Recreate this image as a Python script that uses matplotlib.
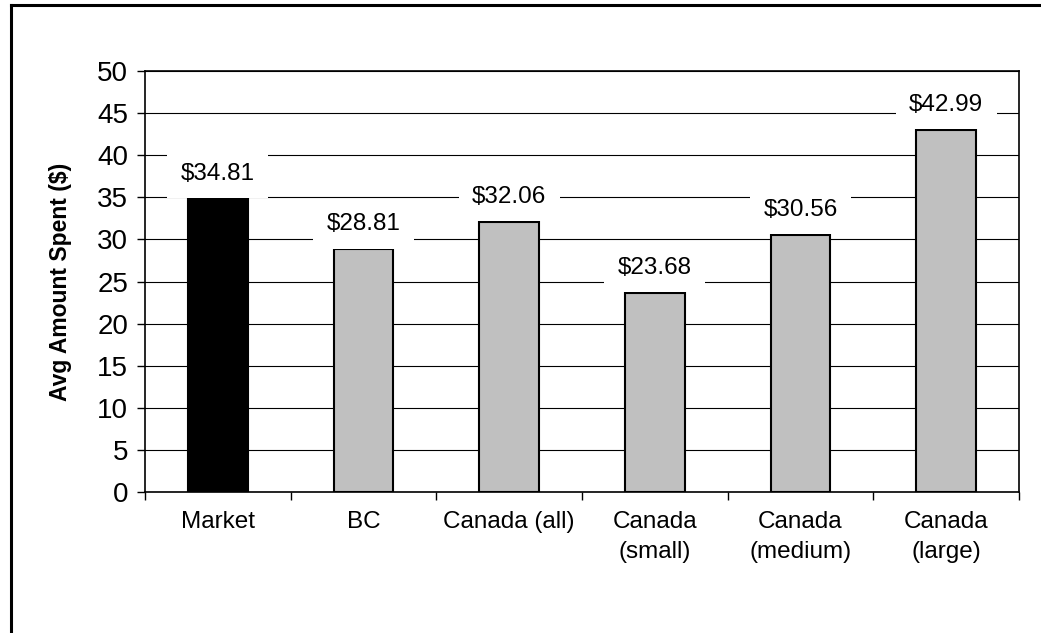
import matplotlib.pyplot as plt
from matplotlib.lines import Line2D
import numpy as np

plt.rcParams['font.family'] = ['Liberation Sans', 'DejaVu Sans']

# Datos
categorias = ['Market', 'BC', 'Canada (all)', 'Canada\n(small)', 'Canada\n(medium)', 'Canada\n(large)']
valores = [34.81, 28.81, 32.06, 23.68, 30.56, 42.99]
colores = ['black', '#c0c0c0', '#c0c0c0', '#c0c0c0', '#c0c0c0', '#c0c0c0']
yticks = list(range(0, 51, 5))

fig = plt.figure(figsize=(10.41, 6.33), dpi=100)
ax = fig.add_axes([0.1393, 0.2227, 0.8396, 0.6651])

x = np.arange(len(categorias))
ax.bar(x, valores, width=0.41, color=colores, edgecolor='black', linewidth=1.5, zorder=3)

ax.set_xlim(-0.5, len(categorias) - 0.5)
ax.set_ylim(0, 50)
ax.set_yticks(yticks)
ax.tick_params(axis='y', labelsize=20, length=6, width=1, direction='out', pad=6)
ax.yaxis.grid(True, color='black', linewidth=0.8, zorder=0)
ax.set_axisbelow(True)

# Etiquetas de categorias con marcas en los limites
ax.set_xticks(x)
ax.set_xticklabels(categorias, fontsize=17.5, linespacing=1.45)
ax.tick_params(axis='x', which='major', length=0, pad=14)
ax.set_xticks(np.arange(-0.5, len(categorias)), minor=True)
ax.tick_params(axis='x', which='minor', length=6, width=1, direction='out')

for s in ax.spines.values():
    s.set_color('black')
    s.set_linewidth(1.2)

ax.set_ylabel('Avg Amount Spent ($)', fontsize=16.5, fontweight='bold', labelpad=18)

# Valores sobre las barras
for xi, v in zip(x, valores):
    ax.annotate(f"${v:.2f}", (xi, v), xytext=(0, 18), textcoords='offset points',
                ha='center', va='center', fontsize=17.5, zorder=4,
                bbox=dict(boxstyle='square,pad=0.55', facecolor='white', edgecolor='none'))

# Marco exterior
fig.add_artist(Line2D([10.5 / 1041, 10.5 / 1041], [0, 1 - 5 / 633], color='black', linewidth=2.2))
fig.add_artist(Line2D([10.5 / 1041, 1], [1 - 5 / 633, 1 - 5 / 633], color='black', linewidth=2.2))

fig.savefig('out.png', dpi=100)
